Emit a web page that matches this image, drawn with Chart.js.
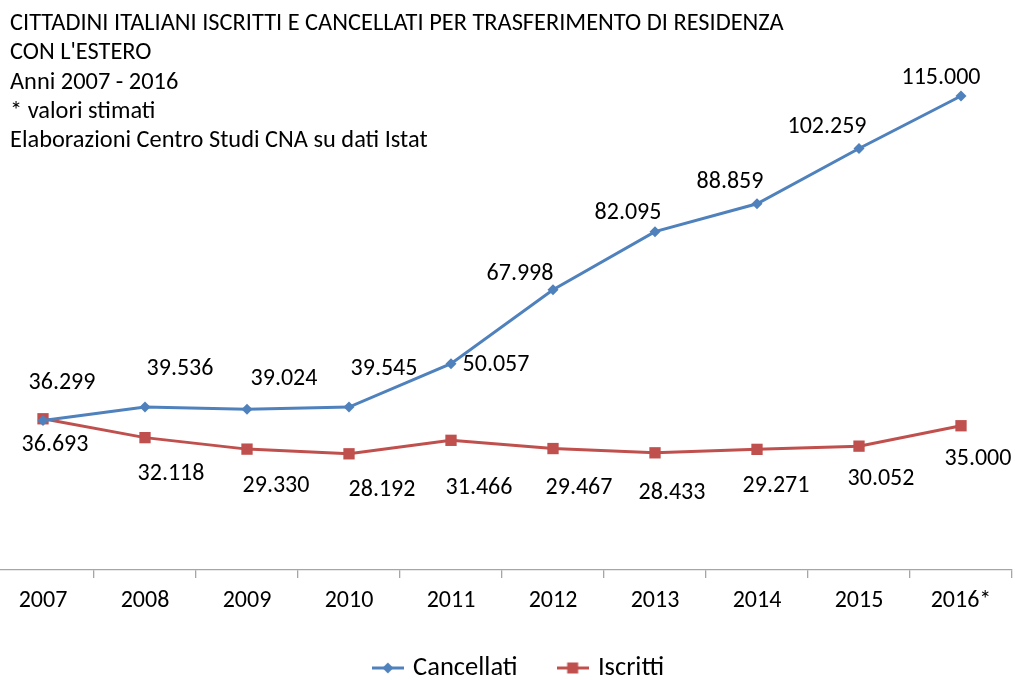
<!DOCTYPE html>
<html>
<head>
<meta charset="utf-8">
<script src="https://cdn.jsdelivr.net/npm/chart.js@4/dist/chart.umd.min.js"></script>
<style>
  html, body { margin: 0; padding: 0; background: #fff; overflow: hidden; }
  #wrap { position: absolute; left: -8px; top: 0; width: 1023px; height: 680px; }
</style>
</head>
<body>
<div id="wrap"><canvas id="chart" width="1023" height="680"></canvas></div>
<script>
// chart data
const years = ['2007', '2008', '2009', '2010', '2011', '2012', '2013', '2014', '2015', '2016*'];
const cancellati = [36299, 39536, 39024, 39545, 50057, 67998, 82095, 88859, 102259, 115000];
const iscritti = [36693, 32118, 29330, 28192, 31466, 29467, 28433, 29271, 30052, 35000];

const titleLines = [
  'CITTADINI ITALIANI ISCRITTI E CANCELLATI PER TRASFERIMENTO DI RESIDENZA',
  "CON L'ESTERO",
  'Anni 2007 - 2016',
  '* valori stimati',
  'Elaborazioni Centro Studi CNA su dati Istat',
];

// where each data label sits relative to its point (dx, dy)
const cancellatiLabelPos = [[19, -37], [35, -38], [37, -30], [35, -38], [45, 1], [-33, -16], [-27, -19], [-27, -22], [-32, -22], [-20, -18]];
const iscrittiLabelPos = [[12, 26], [26, 36], [29, 37], [33, 36], [28, 48], [26, 39], [17, 40], [19, 37], [22, 33], [17, 33]];

const BLUE = '#4F81BD';
const RED = '#C0504D';
const FONT = 'Carlito, Calibri, Lato, sans-serif';

function fmt(v) {
  return String(v).replace(/\B(?=(\d{3})+(?!\d))/g, '.');
}

// legend swatch: short line with the marker on it
function legendSwatch(color, shape) {
  const c = document.createElement('canvas');
  c.width = 32; c.height = 14;
  const g = c.getContext('2d');
  g.strokeStyle = color; g.lineWidth = 3;
  g.beginPath(); g.moveTo(0, 7); g.lineTo(32, 7); g.stroke();
  g.fillStyle = color;
  if (shape === 'diamond') {
    g.beginPath(); g.moveTo(16, 1.5); g.lineTo(21.5, 7); g.lineTo(16, 12.5); g.lineTo(10.5, 7); g.closePath(); g.fill();
  } else {
    g.fillRect(10.5, 1.5, 11, 11);
  }
  return c;
}

const titlePlugin = {
  id: 'titleText',
  afterDraw(chart) {
    const ctx = chart.ctx;
    ctx.save();
    ctx.fillStyle = '#000';
    ctx.font = '24.4px ' + FONT;
    ctx.textBaseline = 'middle';
    ctx.textAlign = 'left';
    titleLines.forEach((t, i) => ctx.fillText(t, 18, 24 + i * 29.3));
    ctx.restore();
  }
};

const labelPlugin = {
  id: 'pointLabels',
  afterDatasetsDraw(chart) {
    const ctx = chart.ctx;
    const pos = [cancellatiLabelPos, iscrittiLabelPos];
    ctx.save();
    ctx.fillStyle = '#000';
    ctx.font = '24px ' + FONT;
    ctx.textAlign = 'center';
    ctx.textBaseline = 'middle';
    chart.data.datasets.forEach((ds, di) => {
      chart.getDatasetMeta(di).data.forEach((pt, i) => {
        const [dx, dy] = pos[di][i];
        ctx.fillText(fmt(ds.data[i]), pt.x + dx, pt.y + dy);
      });
    });
    ctx.restore();
  }
};

// put the legend row where the original has it
const legendPlace = {
  id: 'legendPlace',
  afterLayout(chart) {
    const lg = chart.legend;
    const pad = lg.options.labels.padding;
    const h = lg.options.labels.font.size;
    lg.left += 18;
    lg.right += 18;
    lg.top = 668 - pad - h / 2;
    lg.bottom = chart.height;
    lg.height = lg.bottom - lg.top;
  }
};

new Chart(document.getElementById('chart'), {
  type: 'line',
  data: {
    labels: years,
    datasets: [
      {
        label: 'Cancellati',
        data: cancellati,
        borderColor: BLUE,
        backgroundColor: BLUE,
        borderWidth: 3,
        pointStyle: 'rectRot',
        pointRadius: 5.5,
        pointBorderWidth: 0,
        tension: 0,
      },
      {
        label: 'Iscritti',
        data: iscritti,
        borderColor: RED,
        backgroundColor: RED,
        borderWidth: 3,
        pointStyle: 'rect',
        pointRadius: 8,
        pointBorderWidth: 0,
        tension: 0,
      },
    ],
  },
  options: {
    responsive: false,
    animation: false,
    layout: { autoPadding: false, padding: { left: 0, right: 3, top: 0, bottom: 0 } },
    scales: {
      y: { display: false, min: 0, max: 138300 },
      x: {
        offset: true,
        afterFit(scale) { scale.height = 70; },
        grid: { offset: true, drawOnChartArea: false, tickLength: 8, color: '#A6A6A6', lineWidth: 1.3 },
        border: { color: '#A6A6A6', width: 1.3 },
        ticks: { color: '#000', font: { family: FONT, size: 24 }, padding: 8.6 },
      },
    },
    plugins: {
      title: { display: false },
      tooltip: { enabled: false },
      legend: {
        position: 'bottom',
        maxHeight: 40,
        labels: {
          color: '#000',
          font: { family: FONT, size: 26.5 },
          usePointStyle: true,
          pointStyleWidth: 24,
          padding: 43,
          generateLabels(chart) {
            return [
              { text: 'Cancellati', pointStyle: legendSwatch(BLUE, 'diamond'), fillStyle: BLUE, strokeStyle: BLUE, lineWidth: 0, datasetIndex: 0, fontColor: '#000' },
              { text: 'Iscritti', pointStyle: legendSwatch(RED, 'square'), fillStyle: RED, strokeStyle: RED, lineWidth: 0, datasetIndex: 1, fontColor: '#000' },
            ];
          },
        },
      },
    },
  },
  plugins: [titlePlugin, labelPlugin, legendPlace],
});
</script>
</body>
</html>
